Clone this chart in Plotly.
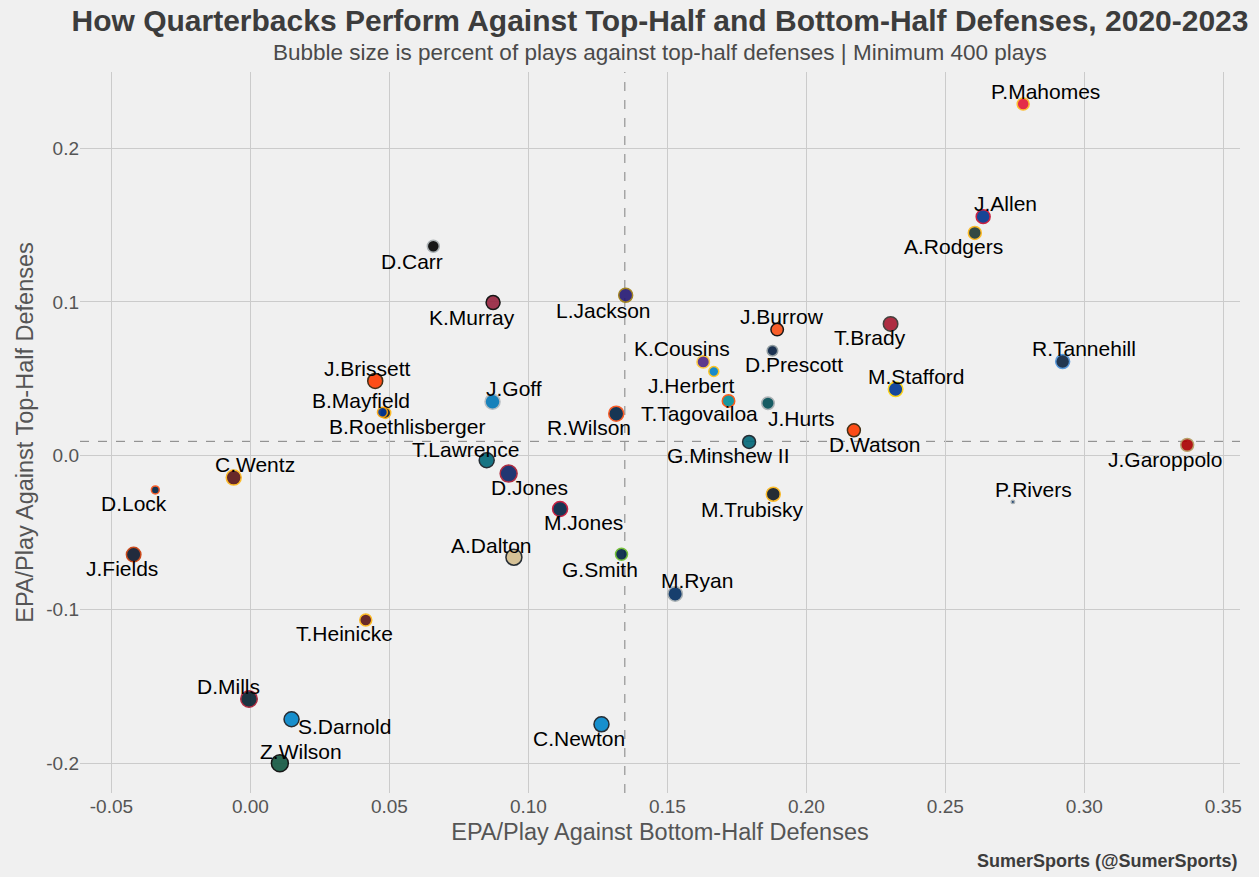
import plotly.graph_objects as go
import math

# ---- data ----
players = ["P.Mahomes", "J.Allen", "A.Rodgers", "T.Brady", "R.Tannehill", "M.Stafford",
           "J.Garoppolo", "D.Watson", "J.Burrow", "D.Prescott", "K.Cousins", "J.Herbert",
           "T.Tagovailoa", "J.Hurts", "G.Minshew II", "L.Jackson", "R.Wilson", "M.Trubisky",
           "G.Smith", "M.Ryan", "C.Newton", "M.Jones", "D.Jones", "A.Dalton", "T.Lawrence",
           "J.Goff", "K.Murray", "D.Carr", "J.Brissett", "B.Roethlisberger", "B.Mayfield",
           "C.Wentz", "D.Lock", "J.Fields", "T.Heinicke", "D.Mills", "S.Darnold", "Z.Wilson",
           "P.Rivers"]

epa_bottom = [0.278, 0.2636, 0.2606, 0.2303, 0.2922, 0.2321,
              0.337, 0.2171, 0.1895, 0.1878, 0.1629, 0.1667,
              0.172, 0.1862, 0.1794, 0.135, 0.1316, 0.1881,
              0.1335, 0.1528, 0.1263, 0.1114, 0.0929, 0.0948, 0.085,
              0.0871, 0.0873, 0.0658, 0.0449, 0.0485, 0.0475,
              -0.006, -0.0342, -0.042, 0.0415, -0.0005, 0.0148, 0.0106,
              0.2743]

epa_top = [0.2288, 0.1555, 0.1449, 0.0857, 0.0612, 0.0432,
           0.0070, 0.0165, 0.0820, 0.0683, 0.0610, 0.0547,
           0.0356, 0.0341, 0.0089, 0.1044, 0.0273, -0.0251,
           -0.0642, -0.0900, -0.1748, -0.0347, -0.0117, -0.0661, -0.0030,
           0.0351, 0.0996, 0.1362, 0.0486, 0.0278, 0.0282,
           -0.0143, -0.0223, -0.0644, -0.1069, -0.1583, -0.1715, -0.2001,
           -0.0301]

pct_top_half = [48.8, 50.5, 49.6, 51.0, 50.5, 51.0,
                49.6, 49.6, 49.2, 47.7, 49.2, 47.3,
                49.2, 49.2, 49.6, 50.5, 51.5, 50.5,
                48.8, 51.0, 51.5, 51.5, 53.6, 52.5, 51.5,
                51.5, 50.5, 48.8, 51.5, 48.0, 47.3,
                51.5, 46.1, 51.0, 48.8, 53.1, 51.5, 53.6,
                44.4]

team_color = ["#e31837", "#00338d", "#203731", "#a71930", "#0c2340", "#003594",
              "#aa0000", "#ff3c00", "#fb4f14", "#041e42", "#4f2683", "#0080c6",
              "#008e97", "#004c54", "#006778", "#241773", "#002244", "#101820",
              "#002244", "#002c5f", "#0085ca", "#002244", "#0b2265", "#d3bc8d", "#006778",
              "#0076b6", "#97233f", "#000000", "#ff3c00", "#101820", "#003594",
              "#5a1414", "#002244", "#0b162a", "#5a1414", "#03202f", "#0085ca", "#125740",
              "#002c5f"]

team_edge = ["#ffb81c", "#c60c30", "#ffb612", "#322f2b", "#4b92db", "#ffd100",
             "#b3995d", "#311d00", "#000000", "#869397", "#ffc62f", "#ffc20e",
             "#fc4c02", "#a5acaf", "#101820", "#9e7c0c", "#fb4f14", "#ffb612",
             "#69be28", "#a2aaad", "#101820", "#c60c30", "#a71930", "#101820", "#101820",
             "#b0b7bc", "#000000", "#a5acaf", "#311d00", "#ffb612", "#ffa300",
             "#ffb612", "#fb4f14", "#c83803", "#ffb612", "#a71930", "#101820", "#000000",
             "#a2aaad"]

# label offsets in screen pixels (dx right, dy down)
label_dx = [22, 22, -21, -21, 21, 21,
            -22, 21, 5, 22, -21, -22,
            -29, 34, -21, -22, -27, -21,
            -22, 22, -22, 23, 21, -22, -21,
            21, -21, -21, -8, 22, -21,
            21, -21, -12, -21, -21, 53, 21,
            21]
label_dy = [-12, -13, 14, 14, -13, -13,
            15, 14, -13, 14, -13, 14,
            13, 15, 14, 15, 14, 15,
            15, -13, 14, 14, 14, -12, -11,
            -13, 15, 15, -12, 14, -12,
            -13, 14, 14, 14, -12, 7, -12,
            -12]

x_ref = 0.1347
y_ref = 0.0093

x_ticks = [-0.05, 0.0, 0.05, 0.10, 0.15, 0.20, 0.25, 0.30, 0.35]
y_ticks = [-0.2, -0.1, 0.0, 0.1, 0.2]

FONT = "Liberation Sans, Arial"

# ---- figure ----
sizes = [math.sqrt((p - 44.0) * 30.0) for p in pct_top_half]

fig = go.Figure()
fig.add_trace(go.Scatter(
    x=epa_bottom, y=epa_top, mode="markers",
    marker=dict(size=sizes, color=team_color, opacity=0.9,
                line=dict(color=team_edge, width=1.5)),
    hoverinfo="text", text=players, showlegend=False,
))

fig.add_vline(x=x_ref, line=dict(color="#808080", width=1, dash="dash"), layer="below")
fig.add_hline(y=y_ref, line=dict(color="#808080", width=1, dash="dash"), layer="below")

for name, xv, yv, dx, dy in zip(players, epa_bottom, epa_top, label_dx, label_dy):
    fig.add_annotation(x=xv, y=yv, text=name, showarrow=False,
                       xshift=dx, yshift=-dy,
                       font=dict(family=FONT, size=21, color="#000000"))

fig.add_annotation(text="<b>SumerSports (@SumerSports)</b>", xref="paper", yref="paper",
                   x=1.0, y=-0.095, xanchor="right", yanchor="middle", showarrow=False,
                   font=dict(family=FONT, size=18, color="#3c3c3c"))

fig.add_annotation(text="Bubble size is percent of plays against top-half defenses | Minimum 400 plays",
                   xref="paper", yref="paper", x=0.5, y=1.0, yshift=20,
                   xanchor="center", yanchor="middle", showarrow=False,
                   font=dict(family=FONT, size=22.5, color="#4a4a4a"))

fig.update_layout(
    width=1259, height=877,
    paper_bgcolor="#f0f0f0", plot_bgcolor="#f0f0f0",
    margin=dict(l=80, r=19, t=72, b=84),
    title=dict(text="<b>How Quarterbacks Perform Against Top-Half and Bottom-Half Defenses, 2020-2023</b>",
               x=0.5, xref="paper", xanchor="center", y=0.977, yanchor="middle",
               font=dict(family=FONT, size=30, color="#3c3c3c")),
    font=dict(family=FONT, color="#555555"),
    xaxis=dict(range=[-0.0613, 0.356], tickvals=x_ticks,
               ticktext=[f"{v:.2f}" for v in x_ticks],
               showgrid=True, gridcolor="#cbcbcb", gridwidth=1, zeroline=False,
               showline=False, ticks="", tickfont=dict(size=19, color="#555555"),
               title=dict(text="EPA/Play Against Bottom-Half Defenses", standoff=7,
                          font=dict(size=23.5, color="#555555"))),
    yaxis=dict(range=[-0.2195, 0.2496], tickvals=y_ticks,
               ticktext=[f"{v:.1f}" for v in y_ticks],
               showgrid=True, gridcolor="#cbcbcb", gridwidth=1, zeroline=False,
               showline=False, ticks="", tickfont=dict(size=19, color="#555555"),
               title=dict(text="EPA/Play Against Top-Half Defenses", standoff=6,
                          font=dict(size=23.5, color="#555555"))),
)

fig.write_html("out.html", config={"displayModeBar": False},
               post_script="document.body.style.margin='0px';")
